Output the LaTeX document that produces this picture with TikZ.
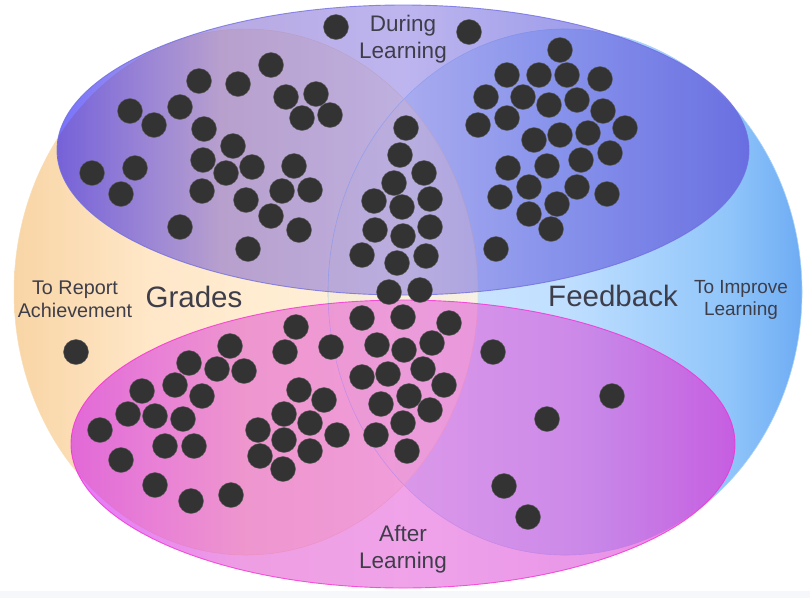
\documentclass[tikz,border=0pt]{standalone}
\usepackage{fontspec}
\setsansfont{Liberation Sans}

\definecolor{inkgray}{RGB}{62,62,74}
\definecolor{dotgray}{RGB}{51,51,51}
\definecolor{stripgray}{RGB}{246,247,250}
% report (left) ellipse
\definecolor{repA}{RGB}{248,206,150}
\definecolor{repB}{RGB}{255,228,192}
\definecolor{repC}{RGB}{255,244,222}
% improve (right) ellipse
\definecolor{impA}{RGB}{215,235,255}
\definecolor{impB}{RGB}{192,223,255}
\definecolor{impC}{RGB}{145,198,250}
\definecolor{impD}{RGB}{110,172,243}
% during (top) ellipse
\definecolor{durA}{RGB}{10,0,250}
\definecolor{durB}{RGB}{127,100,205}
\definecolor{durC}{RGB}{137,122,226}
\definecolor{durD}{RGB}{88,84,220}
\definecolor{durE}{RGB}{80,45,205}
% after (bottom) ellipse
\definecolor{aftA}{RGB}{205,10,245}
\definecolor{aftB}{RGB}{225,80,205}
\definecolor{aftC}{RGB}{228,88,216}
\definecolor{aftD}{RGB}{215,65,214}
\definecolor{aftE}{RGB}{245,10,205}

\pgfdeclarehorizontalshading{repshade}{100bp}{color(0bp)=(repA); color(25bp)=(repA);
  color(40bp)=(repB); color(75bp)=(repC); color(100bp)=(repC)}
\pgfdeclarehorizontalshading{impshade}{100bp}{color(0bp)=(impA); color(25bp)=(impA);
  color(50bp)=(impB); color(67bp)=(impC); color(75bp)=(impD); color(100bp)=(impD)}
\pgfdeclarehorizontalshading{durshade}{100bp}{color(0bp)=(durA); color(25bp)=(durA);
  color(37bp)=(durB); color(50bp)=(durC); color(61bp)=(durD); color(75bp)=(durE); color(100bp)=(durE)}
\pgfdeclarehorizontalshading{aftshade}{100bp}{color(0bp)=(aftA); color(25bp)=(aftA);
  color(38bp)=(aftB); color(50bp)=(aftC); color(65bp)=(aftD); color(75bp)=(aftE); color(100bp)=(aftE)}

\begin{document}
\begin{tikzpicture}[x=1pt,y=-1pt,
    dot node/.style={circle,fill=dotgray,draw=dotgray!80!white,line width=.4pt,
      minimum size=25pt,inner sep=0pt},
    time node/.style={font=\sffamily\fontsize{22.5}{26.5}\selectfont,text=inkgray,
      align=center,inner sep=0pt,anchor=base},
    aim node/.style={font=\sffamily\fontsize{19.8}{23}\selectfont,text=inkgray,
      align=center,inner sep=0pt,anchor=base},
    title node/.style={font=\sffamily\fontsize{29.5}{34}\selectfont,text=inkgray,
      inner sep=0pt,anchor=base}]

  \useasboundingbox (0,0) rectangle (810,598);
  \fill[white] (0,0) rectangle (810,598);
  \fill[stripgray] (0,591) rectangle (810,598);

  % the four sets
  \shade[shading=impshade] (565,292) ellipse [x radius=237pt, y radius=263pt];
  \shade[shading=repshade, fill opacity=.85] (246,292) ellipse [x radius=232pt, y radius=263pt];
  \draw[impC!80!white, line width=.6pt] (565,292) ellipse [x radius=237pt, y radius=263pt];
  \draw[repA!70!white, line width=.5pt] (246,292) ellipse [x radius=232pt, y radius=263pt];

  \shade[shading=durshade, fill opacity=.55] (403,150) ellipse [x radius=346pt, y radius=145pt];
  \shade[shading=aftshade, fill opacity=.55] (403,444) ellipse [x radius=332pt, y radius=144pt];
  \draw[durD!85!white, line width=.9pt, draw opacity=.8] (403,150) ellipse [x radius=346pt, y radius=145pt];
  \draw[aftE!85!white, line width=.9pt, draw opacity=.8] (403,444) ellipse [x radius=332pt, y radius=144pt];

  % dots
  \foreach \x/\y [count=\i] in {336/27, 271/65, 199/81, 238/84, 286/97, 316/94, 130/111,
      180/107, 154/125, 302/118, 330/115, 204/129, 233/146, 203/160, 252/167, 294/166,
      92/173, 135/168, 226/173, 121/194, 202/191, 282/191, 310/190, 246/200, 271/216,
      299/230, 180/227, 248/249,
      469/32, 560/50, 507/75, 539/75, 567/75, 600/79, 486/97, 523/97, 549/105, 577/100,
      603/111, 478/125, 507/118, 534/140, 560/135, 588/133, 625/128, 610/153, 508/168,
      547/166, 581/160, 500/197, 529/187, 577/187, 607/194, 557/204, 529/214, 551/229,
      496/249,
      406/128, 400/155, 424/173, 394/183, 374/201, 430/199, 402/207, 375/230, 403/236,
      430/227, 362/255, 397/263, 426/256, 389/292, 420/290, 362/318, 403/317, 449/323,
      377/345, 404/350, 432/343, 362/377, 388/374, 423/369, 444/385, 381/404, 409/396,
      430/410, 403/423, 376/435, 407/451, 493/352,
      76/352, 296/327, 230/346, 189/363, 285/352, 331/347, 217/369, 244/371, 142/391,
      175/385, 202/396, 128/414, 155/416, 183/419, 100/430, 299/390, 324/400, 284/414,
      310/423, 258/430, 284/440, 337/435, 165/446, 194/446, 260/456, 310/451, 283/469,
      121/460, 155/485, 191/501, 231/495,
      612/396, 547/419, 504/486, 528/517}
    \node[dot node] (d\i) at (\x,\y) {};

  % labels (base = last line)
  \node[time node] (during) at (403,58) {During\\Learning};
  \node[time node] (after) at (403,568) {After\\Learning};
  \node[aim node] (report) at (75,317) {To Report\\Achievement};
  \node[aim node, font=\sffamily\fontsize{19}{22}\selectfont] (improve) at (741,315) {To Improve\\Learning};
  \node[title node] (grades) at (194,307) {Grades};
  \node[title node] (feedback) at (613,306) {Feedback};
\end{tikzpicture}
\end{document}
